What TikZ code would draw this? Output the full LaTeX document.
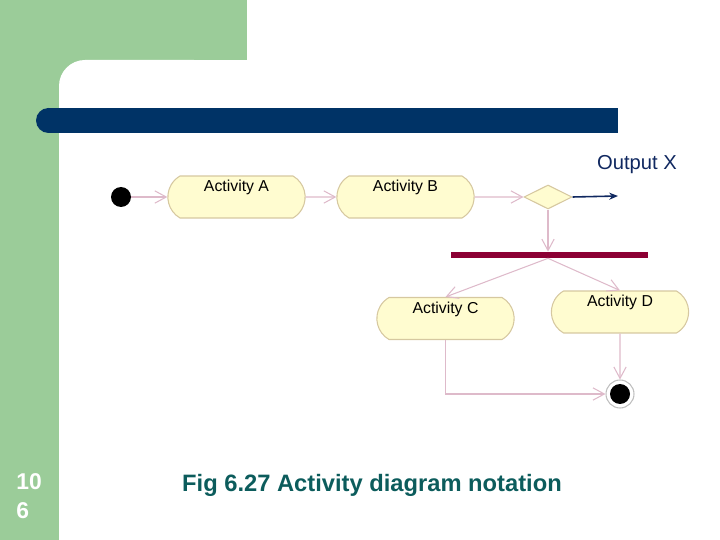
\documentclass[tikz,border=0pt]{standalone}
\usepackage{fontspec}
\setmainfont{Liberation Sans}
\usepackage{tikz}
\usetikzlibrary{arrows.meta,shapes.misc,shapes.geometric}
\definecolor{slidegreen}{RGB}{155,204,153}
\definecolor{slideblue}{RGB}{0,51,102}
\definecolor{slideteal}{RGB}{12,92,92}
\definecolor{actfill}{RGB}{255,252,208}
\definecolor{actline}{RGB}{214,200,160}
\definecolor{flowpink}{RGB}{222,186,202}
\definecolor{forkred}{RGB}{140,0,52}
\definecolor{outnavy}{RGB}{16,40,96}
\tikzset{
  act/.style={rounded rectangle, rounded rectangle arc length=120,
    draw=actline, fill=actfill, line width=0.6pt,
    minimum width=2.98cm, minimum height=0.84cm, inner ysep=2pt,
    text height=7pt, text depth=12.8pt, font=\fontsize{9}{11}\selectfont},
  flow/.style={draw=flowpink, line width=0.6pt,
    -{Straight Barb[length=6.5pt,width=7pt]}},
}

\begin{document}
\begin{tikzpicture}[x=0.02cm, y=-0.02cm]

  \useasboundingbox (0,0) rectangle (720,540);

  % === SLIDE BACKGROUND ===
  \fill[slidegreen] (0,0) rectangle (247,60);
  \fill[slidegreen] (0,0) rectangle (59,540);
  \fill[slidegreen] (59,60) rectangle (90,90);
  \fill[white, rounded corners=26*0.02cm]
    (59,220) |- (220,60) -- (220,220) -- cycle;

  % Title bar (rounded on the left only)
  \fill[slideblue] (48,108) rectangle (618,133);
  \fill[slideblue] (48.5,120.5) circle (12.5);

  % Slide number
  \node[anchor=north west, inner sep=0, align=left, white,
        font=\bfseries\fontsize{13}{16.5}\selectfont] (slidenum) at (16,473)
    {10\\6};

  % === ACTIVITY DIAGRAM ===
  \node[circle, fill=black, minimum size=0.4cm, inner sep=0] (start) at (121,197) {};

  \node[act] (actA) at (236.5,197) {Activity A};
  \node[act] (actB) at (405.5,197) {Activity B};

  \node[diamond, draw=actline, fill=actfill, line width=0.6pt,
        minimum width=0.96cm, minimum height=0.48cm, inner sep=0] (dec) at (548,197) {};

  % Output of the decision
  \coordinate (outend) at (618,196);
  \node[outnavy, font=\fontsize{11.5}{13}\selectfont] (outlbl) at (637,165) {Output X};

  % Fork bar
  \node[rectangle, fill=forkred, minimum width=3.94cm, minimum height=0.12cm,
        inner sep=0] (fork) at (549.5,255) {};

  \node[act] (actC) at (445.5,318.5) {Activity C};
  \node[act] (actD) at (620,312) {Activity D};

  % Final state
  \node[circle, draw=black!25, fill=white, line width=0.6pt, minimum size=0.56cm,
        inner sep=0, path picture={\fill[black] (path picture bounding box.center) circle (10);}]
    (fin) at (620,394) {};

  % Flows
  \draw[flow] (start) -- (actA);
  \draw[flow] (actA) -- (actB);
  \draw[flow] (actB) -- (dec);
  \draw[outnavy, line width=0.9pt, -{Stealth[length=5pt,width=4pt]}] (dec.east) -- (outend);
  \draw[flow] (dec) -- (dec |- fork.north);
  \draw[flow] (fork.south -| dec) -- (actC.north);
  \draw[flow] (fork.south -| dec) -- (actD.north);
  \draw[flow] (actD) -- (fin);
  \draw[flow] (actC.south) |- (fin.west);

  % Caption
  \node[anchor=base, slideteal, font=\bfseries\fontsize{13.5}{16}\selectfont]
    (caption) at (372,491) {Fig 6.27 Activity diagram notation};

\end{tikzpicture}
\end{document}
